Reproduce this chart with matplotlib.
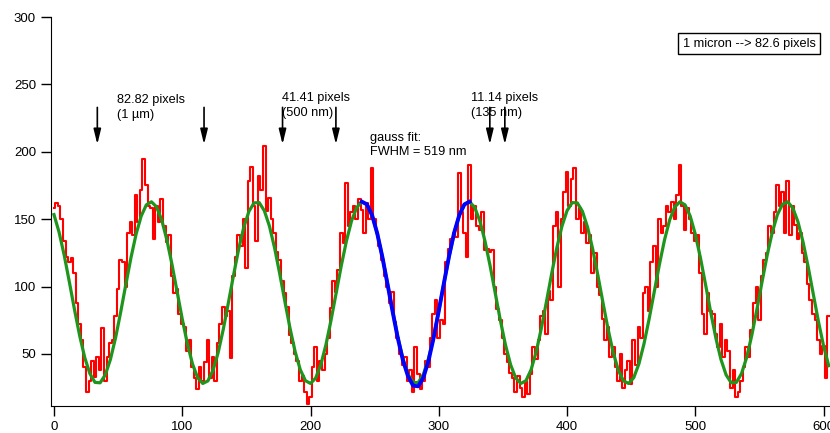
import numpy as np
import matplotlib.pyplot as plt

# profilo misurato (rosso), un valore ogni 2 pixel
red_y = [
    158, 162, 160, 150, 134, 122, 118, 121, 110, 88,
    72, 60, 40, 22, 30, 45, 33, 48, 38, 69,
    30, 48, 58, 60, 78, 98, 120, 118, 100, 140,
    148, 138, 168, 148, 172, 195, 175, 160, 158, 135,
    160, 148, 165, 145, 133, 138, 108, 95, 98, 80,
    72, 70, 52, 60, 40, 32, 24, 40, 30, 44,
    60, 32, 48, 30, 58, 72, 85, 78, 82, 47,
    108, 122, 138, 130, 150, 114, 178, 189, 160, 134,
    182, 172, 204, 156, 166, 150, 140, 126, 120, 104,
    95, 85, 64, 58, 50, 45, 30, 34, 22, 13,
    18, 40, 55, 30, 45, 38, 50, 62, 84, 104,
    96, 112, 140, 132, 177, 145, 155, 160, 150, 165,
    157, 140, 162, 150, 188, 150, 140, 130, 120, 108,
    100, 88, 96, 74, 62, 50, 42, 48, 30, 38,
    22, 55, 35, 24, 30, 45, 40, 62, 80, 90,
    62, 75, 72, 118, 128, 135, 140, 137, 184, 155,
    140, 122, 190, 150, 160, 145, 142, 155, 127, 128,
    126, 127, 100, 83, 75, 62, 50, 44, 36, 32,
    22, 34, 25, 18, 30, 20, 35, 55, 46, 60,
    78, 82, 65, 97, 90, 145, 155, 100, 150, 170,
    185, 160, 180, 188, 150, 158, 140, 148, 132, 138,
    110, 125, 100, 94, 76, 60, 70, 48, 55, 40,
    30, 50, 25, 38, 45, 28, 60, 42, 70, 62,
    95, 100, 82, 118, 130, 100, 150, 140, 145, 160,
    155, 163, 150, 168, 190, 160, 142, 158, 150, 140,
    134, 138, 110, 80, 65, 95, 82, 80, 65, 55,
    72, 48, 60, 52, 25, 38, 18, 22, 30, 40,
    55, 48, 68, 88, 100, 75, 108, 120, 125, 145,
    140, 155, 175, 160, 170, 140, 178, 138, 160, 146,
    135, 140, 125, 118, 102, 90, 80, 75, 60, 50,
    56, 32, 78,
]
red_x = np.arange(len(red_y)) * 2

# fit sinusoidale (verde), un valore ogni 4 pixel
green_y = [
    153.4, 140.3, 123.2, 103.4, 83.0, 63.7, 47.3, 35.4, 28.9, 28.6,
    34.5, 45.9, 61.9, 81.0, 101.4, 121.3, 138.8, 152.3, 160.6, 162.9,
    159.1, 149.4, 134.7, 116.5, 96.3, 76.0, 57.6, 42.6, 32.4, 28.1,
    30.0, 37.9, 51.0, 68.3, 88.1, 108.5, 127.8, 144.0, 155.8, 162.1,
    162.3, 156.3, 144.8, 128.7, 109.5, 89.1, 69.2, 51.8, 38.4, 30.2,
    28.1, 32.1, 41.9, 56.7, 75.0, 95.2, 115.5, 133.8, 148.8, 158.7,
    162.9, 160.9, 152.9, 139.6, 122.2, 102.4, 82.0, 62.8, 46.6, 34.9,
    28.8, 28.8, 34.9, 46.6, 62.8, 82.0, 102.4, 122.2, 139.6, 152.9,
    160.9, 162.9, 158.7, 148.8, 133.9, 115.5, 95.2, 75.0, 56.7, 42.0,
    32.1, 28.1, 30.2, 38.4, 51.8, 69.2, 89.1, 109.5, 128.6, 144.7,
    156.3, 162.3, 162.1, 155.8, 144.0, 127.8, 108.5, 88.1, 68.3, 51.1,
    37.9, 30.0, 28.1, 32.4, 42.6, 57.6, 76.0, 96.2, 116.4, 134.7,
    149.4, 159.1, 162.9, 160.6, 152.3, 138.8, 121.3, 101.4, 81.0, 61.9,
    45.9, 34.5, 28.6, 28.9, 35.4, 47.3, 63.7, 83.0, 103.4, 123.2,
    140.3, 153.4, 161.1, 162.9, 158.3, 148.1, 133.0, 114.5, 94.2, 74.0,
    55.9, 41.3,
]
green_x = np.arange(len(green_y)) * 4

# gauss fit (blu) tra 240 e 324
blue_y = [163, 161, 153, 139.5, 122, 102, 81.5, 62, 45.5, 33.5, 26.5,
          26, 32.5, 45, 62, 82, 102.5, 122.5, 140, 153, 161, 163]
blue_x = 240 + np.arange(len(blue_y)) * 4

# frecce e testi
arrow_x = [33.8, 117, 178.2, 219.8, 339.8, 351.5]
labels = [
    (49, 243, "82.82 pixels\n(1 \u00b5m)"),
    (177.5, 244, "41.41 pixels\n(500 nm)"),
    (325.5, 244, "11.14 pixels\n(135 nm)"),
    (246.3, 215, "gauss fit:\nFWHM = 519 nm"),
]

plt.rcParams['font.family'] = ['Liberation Sans', 'DejaVu Sans']

fig = plt.figure(figsize=(8.3, 4.33), dpi=100)
ax = fig.add_axes([0.061, 0.0624, 0.939, 0.8983])

ax.plot(red_x, red_y, color='#ff0000', lw=1.5, drawstyle='steps-mid')
ax.plot(green_x, green_y, color='#1e961e', lw=2.3)
ax.plot(blue_x, blue_y, color='#0000ff', lw=2.8)

for xa in arrow_x:
    ax.annotate("", xy=(xa, 203.5), xytext=(xa, 235),
                arrowprops=dict(arrowstyle='-|>,head_length=0.9,head_width=0.22',
                                color='black', lw=1.2))

for tx, ty, s in labels:
    ax.text(tx, ty, s, fontsize=9.2, va='top', ha='left', linespacing=1.3)

ax.text(542, 280, "1 micron --> 82.6 pixels", fontsize=9.2, ha='center', va='center',
        bbox=dict(boxstyle='square,pad=0.35', fc='white', ec='black', lw=1))

ax.set_xlim(-2.6, 605)
ax.set_ylim(11.4, 300)
ax.set_xticks([0, 100, 200, 300, 400, 500, 600])
ax.set_yticks([50, 100, 150, 200, 250, 300])
ax.spines['top'].set_visible(False)
ax.spines['right'].set_visible(False)
ax.tick_params(direction='out', length=7, width=1, labelsize=9.5)

fig.savefig("out.png", dpi=100)
